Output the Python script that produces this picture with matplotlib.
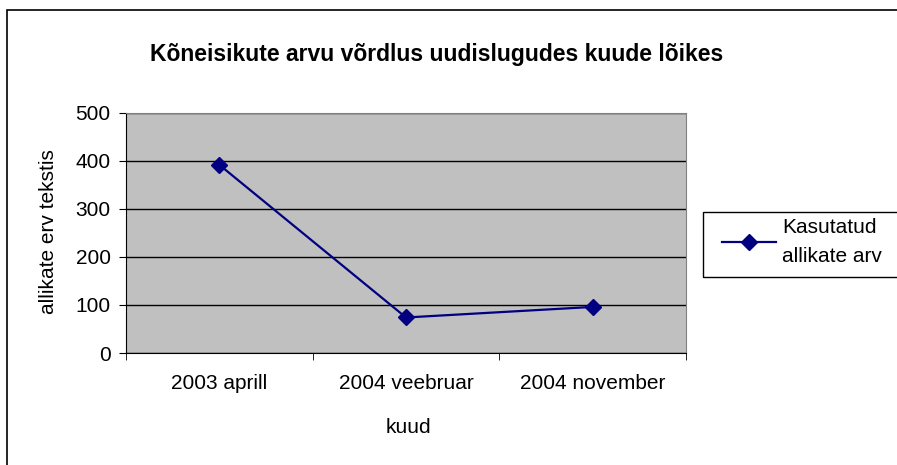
# -*- coding: utf-8 -*-
import matplotlib.pyplot as plt
from matplotlib.patches import Rectangle


# 数据
kuud = ["2003 aprill", "2004 veebruar", "2004 november"]
allikad = [392, 74, 96]
yticks = [0, 100, 200, 300, 400, 500]

plt.rcParams['font.family'] = ['Liberation Sans', 'DejaVu Sans']

fig = plt.figure(figsize=(8.97, 4.65), dpi=100)

# 外框
fig.patches.append(Rectangle((7 / 897, -0.05), 1.1, 1.05 - 10 / 465,
                             transform=fig.transFigure, fill=False,
                             edgecolor="black", linewidth=1.2))
# 图例框
fig.patches.append(Rectangle((703 / 897, 1 - 277 / 465), 0.3, 65 / 465,
                             transform=fig.transFigure, fill=False,
                             edgecolor="black", linewidth=1))

ax = plt.axes([126 / 897, 1 - 353 / 465, 560 / 897, 240 / 465])
ax.set_facecolor("#C0C0C0")
x = list(range(len(kuud)))
plt.plot(x, allikad, c="#000080", marker="D", markersize=8, linewidth=1.6,
         label="Kasutatud\nallikate arv", zorder=3)

plt.xlim(-0.5, 2.5)
plt.ylim(0, 500)
plt.yticks(yticks, fontsize=15)
plt.xticks(x, kuud, fontsize=15)
ax.set_xticks([-0.5, 0.5, 1.5, 2.5], minor=True)
ax.tick_params(axis="x", which="major", length=0, pad=15)
ax.tick_params(axis="x", which="minor", length=5, direction="out")
ax.tick_params(axis="y", length=5, direction="out", pad=6)
plt.grid(axis="y", color="black", linewidth=1)
ax.set_axisbelow(True)
for s in ["top", "right"]:
    ax.spines[s].set_color("#808080")

fig.text(48 / 897, 1 - 232 / 465, "allikate erv tekstis", fontsize=15,
         rotation=90, ha="center", va="center")
fig.text(408 / 897, 1 - 427 / 465, "kuud", fontsize=15, ha="center", va="center")
fig.text(437 / 897, 1 - 55 / 465, "Kõneisikute arvu võrdlus uudislugudes kuude lõikes",
         fontsize=16.5, fontweight="bold", ha="center", va="center")

# 图例
leg = plt.legend(loc="center left", bbox_to_anchor=(722 / 897, 1 - 242 / 465),
                 bbox_transform=fig.transFigure, fontsize=15, frameon=False,
                 handlelength=2.6, handletextpad=0.3, borderaxespad=0,
                 borderpad=0)
for t in leg.get_texts():
    t.set_linespacing(1.7)
    t.set_multialignment("left")

plt.savefig("out.png")
